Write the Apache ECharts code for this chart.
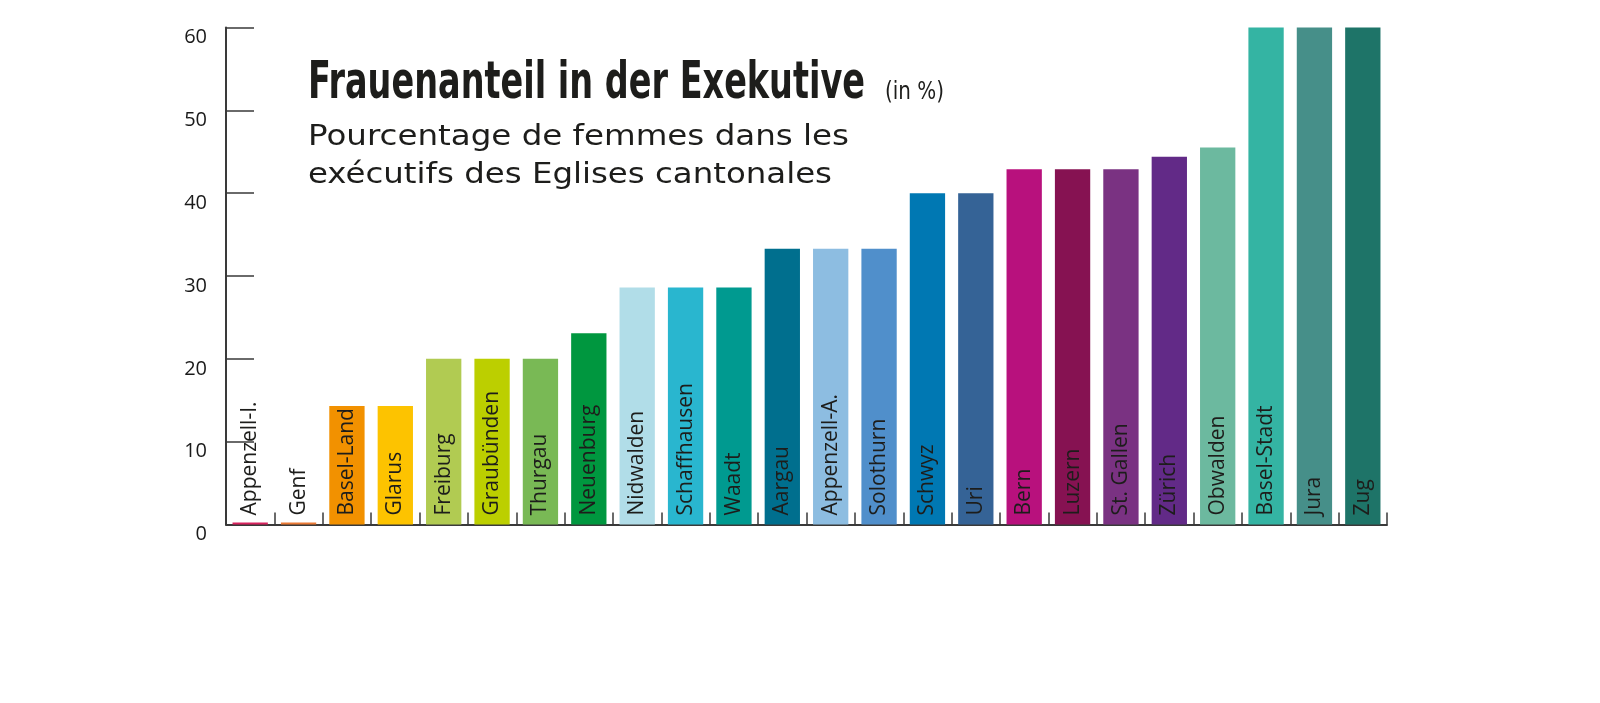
<!DOCTYPE html>
<html>
<head>
<meta charset="utf-8">
<script src="https://cdn.jsdelivr.net/npm/echarts@6/dist/echarts.min.js"></script>
<style>
html,body{margin:0;padding:0;background:#fff;}
#chart{width:1600px;height:703px;}
</style>
</head>
<body>
<div id="chart"></div>
<script>
const categories = ['Appenzell-I.', 'Genf', 'Basel-Land', 'Glarus', 'Freiburg', 'Graubünden', 'Thurgau', 'Neuenburg',
  'Nidwalden', 'Schaffhausen', 'Waadt', 'Aargau', 'Appenzell-A.', 'Solothurn', 'Schwyz', 'Uri',
  'Bern', 'Luzern', 'St. Gallen', 'Zürich', 'Obwalden', 'Basel-Stadt', 'Jura', 'Zug'];
const values = [0, 0, 14.3, 14.3, 20, 20, 20, 23.1, 28.6, 28.6, 28.6, 33.3, 33.3, 33.3, 40, 40,
  42.9, 42.9, 42.9, 44.4, 45.5, 60, 60, 60];
const barColors = ['#d9235f', '#ec7a35', '#f29100', '#fdc300', '#b1cb52', '#bccf00', '#79b955', '#00973f',
  '#b1dde8', '#29b6cf', '#009a90', '#006f8e', '#8dbde1', '#508fcb', '#0078b3', '#356396',
  '#b8117d', '#861252', '#7a3282', '#622a87', '#6cb99f', '#34b4a3', '#468f89', '#1e7468'];
const titleText = 'Frauenanteil in der Exekutive';
const unitText = '(in %)';
const subtitleLines = ['Pourcentage de femmes dans les', 'exécutifs des Eglises cantonales'];

function fitScale(text, font, target) {
  const ctx = document.createElement('canvas').getContext('2d');
  ctx.font = font;
  const w = ctx.measureText(text).width;
  return w > 0 ? target / w : 1;
}

const titleFont = 'bold 52px "Liberation Sans Narrow", "DejaVu Sans Condensed", Roboto, sans-serif';
const unitFont = '24px "Liberation Sans Narrow", "DejaVu Sans Condensed", Roboto, sans-serif';
const subFont = '28px "DejaVu Sans", Verdana, sans-serif';

const chart = echarts.init(document.getElementById('chart'), null, {renderer: 'canvas'});
chart.setOption({
  backgroundColor: '#ffffff',
  animation: false,
  grid: {left: 226, right: 213, top: 27.5, bottom: 178.5, containLabel: false},
  xAxis: {
    type: 'category',
    data: categories,
    boundaryGap: true,
    axisLine: {show: true, lineStyle: {color: '#3a3a3a', width: 2}},
    axisTick: {show: true, inside: true, length: 12, interval: 0, lineStyle: {color: '#3a3a3a', width: 1.5}},
    axisLabel: {show: false},
    splitLine: {show: false}
  },
  yAxis: {
    type: 'value',
    min: 0, max: 60, interval: 10,
    axisLine: {show: true, lineStyle: {color: '#3a3a3a', width: 2}},
    axisTick: {show: true, inside: true, length: 28, lineStyle: {color: '#3a3a3a', width: 1.5}},
    axisLabel: {
      show: true, margin: 19, color: '#1a1a1a', fontSize: 20,
      fontFamily: '"Open Sans", "Noto Sans", sans-serif',
      verticalAlign: 'top', padding: [0, 0, 0, 0]
    },
    splitLine: {show: false}
  },
  series: [{
    type: 'bar',
    data: values.map((v, i) => ({value: v, itemStyle: {color: barColors[i]}})),
    barWidth: '73%',
    barMinHeight: 2,
    label: {
      show: true,
      position: 'insideBottom',
      distance: 9,
      rotate: 90,
      align: 'left',
      verticalAlign: 'middle',
      formatter: '{b}',
      color: '#1d1d1b',
      fontSize: 21,
      fontFamily: '"Open Sans", "Noto Sans", sans-serif'
    }
  }],
  graphic: [
    {type: 'text', x: 308, y: 84, scaleX: fitScale(titleText, titleFont, 557),
      style: {text: titleText, font: titleFont, fill: '#1d1d1b', textAlign: 'left', textVerticalAlign: 'middle'}},
    {type: 'text', x: 885, y: 93, scaleX: fitScale(unitText, unitFont, 59),
      style: {text: unitText, font: unitFont, fill: '#1d1d1b', textAlign: 'left', textVerticalAlign: 'middle'}},
    {type: 'text', x: 308, y: 137.5, scaleX: fitScale(subtitleLines[0], subFont, 541),
      style: {text: subtitleLines[0], font: subFont, fill: '#1d1d1b', textAlign: 'left', textVerticalAlign: 'middle'}},
    {type: 'text', x: 308, y: 176, scaleX: fitScale(subtitleLines[1], subFont, 524),
      style: {text: subtitleLines[1], font: subFont, fill: '#1d1d1b', textAlign: 'left', textVerticalAlign: 'middle'}}
  ]
});
</script>
</body>
</html>
